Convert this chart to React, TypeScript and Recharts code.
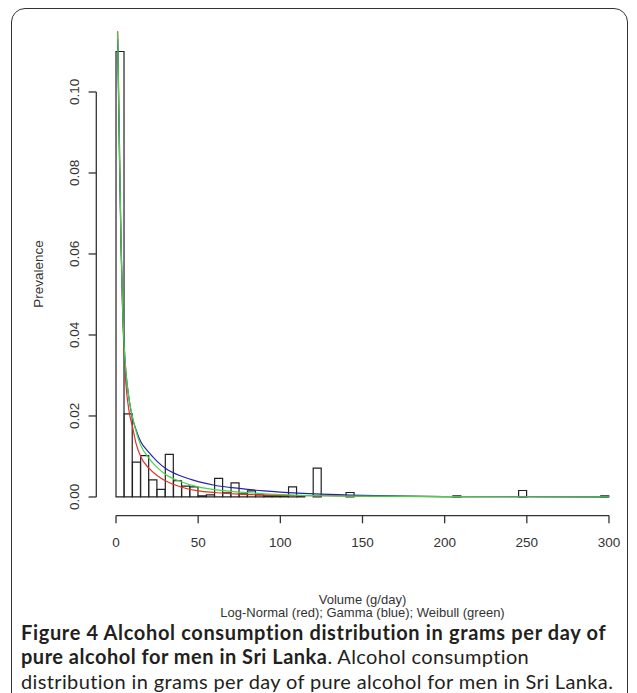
import { ComposedChart, Bar, Line, XAxis, YAxis, ReferenceLine } from 'recharts'

// histogram bins (5 g/day wide), bin midpoints
const binMids = [
  2.5, 7.5, 12.5, 17.5, 22.5, 27.5, 32.5, 37.5, 42.5, 47.5,
  52.5, 57.5, 62.5, 67.5, 72.5, 77.5, 82.5, 87.5, 92.5, 97.5,
  102.5, 107.5, 112.5, 117.5, 122.5, 127.5, 132.5, 137.5, 142.5, 147.5,
  152.5, 157.5, 162.5, 167.5, 172.5, 177.5, 182.5, 187.5, 192.5, 197.5,
  202.5, 207.5, 212.5, 217.5, 222.5, 227.5, 232.5, 237.5, 242.5, 247.5,
  252.5, 257.5, 262.5, 267.5, 272.5, 277.5, 282.5, 287.5, 292.5, 297.5,
]
const binHeights = [
  0.110, 0.0205, 0.0086, 0.0102, 0.0042, 0.0019, 0.0105, 0.0040, 0.0027, 0.0025,
  0.0003, 0.0005, 0.0046, 0.0010, 0.0035, 0.0008, 0.0015, 0.0005, 0.0003, 0.0003,
  0.0003, 0.0025, 0.0003, 0, 0.0071, 0, 0, 0, 0.0011, 0,
  0, 0, 0, 0, 0, 0, 0, 0, 0, 0,
  0, 0.0003, 0, 0, 0, 0, 0, 0, 0, 0.0016,
  0, 0, 0, 0, 0, 0, 0, 0, 0, 0.0003,
]

// fitted densities
const curveX = [1, 2, 3, 4, 5, 6, 8, 10, 12, 15, 20, 25, 30, 40, 50, 60, 75, 90, 100, 125, 150, 200, 250, 300]
const logNormal = [0.115, 0.09, 0.064, 0.046, 0.035, 0.028, 0.021, 0.0174, 0.0135, 0.0100, 0.0071, 0.0053, 0.0040, 0.0024, 0.0015, 0.0011, 0.0007, 0.0005, 0.0004, 0.0003, 0.0002, 0.0001, 0.00005, 0.00003]
const gamma = [0.113, 0.086, 0.063, 0.047, 0.037, 0.031, 0.024, 0.0195, 0.0168, 0.0137, 0.011, 0.0088, 0.0071, 0.0051, 0.0038, 0.0029, 0.0021, 0.0015, 0.0012, 0.0007, 0.0004, 0.0001, 0.00005, 0.00002]
const weibull = [0.1147, 0.088, 0.064, 0.047, 0.037, 0.031, 0.024, 0.0198, 0.0165, 0.0128, 0.0096, 0.0073, 0.0056, 0.0037, 0.0025, 0.0018, 0.0012, 0.0008, 0.0006, 0.0003, 0.0002, 0.0001, 0.00005, 0.00002]

const xTicks = [0, 50, 100, 150, 200, 250, 300]
const yTicks = [0, 0.02, 0.04, 0.06, 0.08, 0.1]

// R style: y axis line only spans the tick range
const yAxisSpan = [
  { x: -12, y: 0 },
  { x: -12, y: 0.1 },
]

const hist = binMids.map((x, i) => ({ x, v: binHeights[i] }))
const toPts = (ys: number[]) => curveX.map((x, i) => ({ x, y: ys[i] }))

const axisFont = '"Liberation Sans", Arial, sans-serif'
const ink = '#333'
const TICK = 7.7

const XTick = ({ x, y, payload }: any) => (
  <g>
    <line x1={x} x2={x} y1={y - TICK} y2={y} stroke={ink} strokeWidth={1.3} />
    <text x={x} y={y + 23.7} textAnchor="middle" fontSize={13.5} fontFamily={axisFont} fill={ink}>
      {payload.value}
    </text>
  </g>
)

const YTick = ({ x, y, payload }: any) => (
  <g>
    <line x1={x} x2={x + TICK} y1={y} y2={y} stroke={ink} strokeWidth={1.3} />
    <text
      x={x - 9.3}
      y={y}
      transform={`rotate(-90, ${x - 9.3}, ${y})`}
      textAnchor="middle"
      fontSize={13.5}
      fontFamily={axisFont}
      fill={ink}
    >
      {payload.value.toFixed(2)}
    </text>
  </g>
)

const lineStyle = { type: 'monotone' as const, dot: false, strokeWidth: 1.2, isAnimationActive: false, xAxisId: 'c', dataKey: 'y' }
const axisText = { position: 'absolute' as const, left: 62.5, width: 600, textAlign: 'center' as const, fontFamily: axisFont, fontSize: 13, lineHeight: '13px', color: ink }

export default function App() {
  return (
    <div style={{ position: 'absolute', left: 0, top: 0, width: 637, height: 693, overflow: 'hidden', background: '#fff' }}>
      <div
        style={{
          position: 'absolute', left: 11, top: 8, width: 615, height: 720,
          border: '1.5px solid #333', borderRadius: 14,
        }}
      />
      <div style={{ position: 'absolute', left: 0, top: 0 }}>
        <ComposedChart
          width={637}
          height={693}
          data={hist}
          barCategoryGap={0}
          margin={{ top: 12.6, right: 8.3, bottom: 137.4, left: 36.3 }}
        >
          <XAxis
            xAxisId="h"
            dataKey="x"
            type="number"
            domain={[-12, 312]}
            ticks={xTicks}
            axisLine={false}
            tickLine={false}
            tickSize={TICK}
            tickMargin={0}
            tick={<XTick />}
            height={40}
          />
          <XAxis xAxisId="c" dataKey="x" type="number" domain={[-12, 312]} hide height={0} />
          <YAxis
            type="number"
            domain={[-0.0046, 0.1196]}
            ticks={yTicks}
            axisLine={false}
            tickLine={false}
            tickSize={TICK}
            tickMargin={0}
            tick={<YTick />}
            width={60}
          />
          <Bar xAxisId="h" dataKey="v" fill="#fff" stroke="#222" strokeWidth={1.2} isAnimationActive={false} />
          <Line {...lineStyle} data={toPts(logNormal)} stroke="#e0302a" />
          <Line {...lineStyle} data={toPts(gamma)} stroke="#2323b0" />
          <Line {...lineStyle} data={toPts(weibull)} stroke="#3fd83f" />
          <Line {...lineStyle} type="linear" data={yAxisSpan} stroke={ink} strokeWidth={1.3} />
          <ReferenceLine
            xAxisId="h"
            segment={[{ x: 0, y: -0.0046 }, { x: 300, y: -0.0046 }]}
            stroke={ink}
            strokeWidth={1.3}
            ifOverflow="visible"
          />
        </ComposedChart>
      </div>
      <div
        style={{
          position: 'absolute', left: 37.5, top: 274, transform: 'translate(-50%, -50%) rotate(-90deg)',
          fontFamily: axisFont, fontSize: 13.5, color: ink, whiteSpace: 'nowrap',
        }}
      >
        Prevalence
      </div>
      <div style={{ ...axisText, top: 592.5 }}>Volume (g/day)</div>
      <div style={{ ...axisText, top: 606 }}>Log-Normal (red); Gamma (blue); Weibull (green)</div>
      <div
        style={{
          position: 'absolute', left: 21, top: 619.5, width: 612,
          fontFamily: 'Lato, sans-serif', fontSize: 20, lineHeight: '24.5px', letterSpacing: 0.36,
          color: '#231f20', whiteSpace: 'nowrap',
        }}
      >
        <b style={{ letterSpacing: 0.65 }}>Figure 4 Alcohol consumption distribution in grams per day of</b>
        <br />
        <b style={{ letterSpacing: 0.5 }}>pure alcohol for men in Sri Lanka</b>. Alcohol consumption
        <br />
        distribution in grams per day of pure alcohol for men in Sri Lanka.
      </div>
    </div>
  )
}
